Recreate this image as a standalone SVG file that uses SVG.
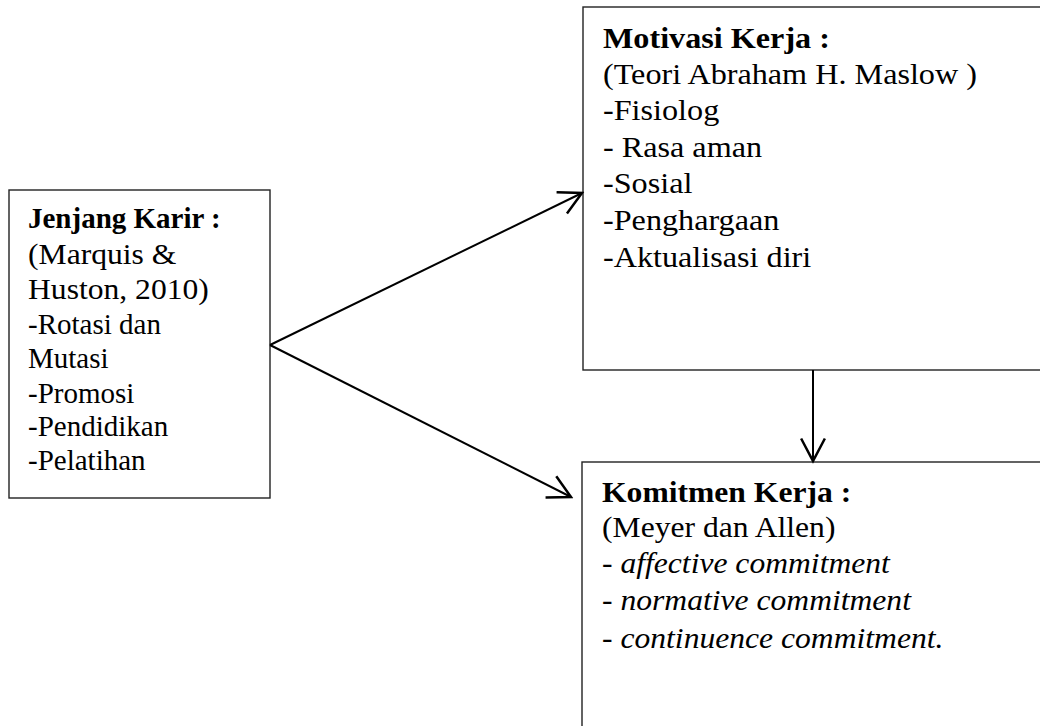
<svg xmlns="http://www.w3.org/2000/svg" width="1040" height="726" viewBox="0 0 1040 726">
  <defs>
    <style>
      .box { fill: #ffffff; stroke: #222222; stroke-width: 1.4; }
      .t { font-family: "Liberation Serif", "Times New Roman", serif; font-size: 29px; fill: #000000; }
      .b { font-weight: bold; }
      .i { font-style: italic; }
      .conn { stroke: #000000; stroke-width: 2; fill: none; marker-end: url(#arr); }
    </style>
    <marker id="arr" markerUnits="userSpaceOnUse" markerWidth="30" markerHeight="30" viewBox="-22 -12 24 24" refX="0" refY="0" orient="auto">
      <path d="M-18,-9.5 L0,0 L-18,9.5" fill="none" stroke="#000000" stroke-width="2"/>
    </marker>
  </defs>
  <rect x="0" y="0" width="1040" height="726" fill="#ffffff"/>

  <g id="jenjang-karir">
    <rect class="box" x="9" y="190" width="261" height="308"/>
    <text class="t b" x="28" y="228">Jenjang Karir :</text>
    <g transform="translate(28 0) scale(1.09 1)">
      <text class="t" x="0" y="264">(Marquis &amp;</text>
      <text class="t" x="0" y="299">Huston, 2010)</text>
    </g>
    <text class="t" x="28" y="334">-Rotasi dan</text>
    <text class="t" x="28" y="368">Mutasi</text>
    <text class="t" x="28" y="403">-Promosi</text>
    <text class="t" x="28" y="436">-Pendidikan</text>
    <text class="t" x="28" y="470">-Pelatihan</text>
  </g>

  <g id="motivasi-kerja">
    <rect class="box" x="583" y="7" width="470" height="363"/>
    <g transform="translate(603 0) scale(1.11 1)">
      <text class="t b" x="0" y="48">Motivasi Kerja :</text>
      <text class="t" x="0" y="84">(Teori Abraham H. Maslow )</text>
      <text class="t" x="0" y="120">-Fisiolog</text>
      <text class="t" x="0" y="157">- Rasa aman</text>
      <text class="t" x="0" y="193">-Sosial</text>
      <text class="t" x="0" y="230">-Penghargaan</text>
      <text class="t" x="0" y="267">-Aktualisasi diri</text>
    </g>
  </g>

  <g id="komitmen-kerja">
    <rect class="box" x="582" y="462" width="470" height="280"/>
    <g transform="translate(602 0) scale(1.09 1)">
      <text class="t b" x="0" y="502">Komitmen Kerja :</text>
      <text class="t" x="0" y="537">(Meyer dan Allen)</text>
      <text class="t" x="0" y="573">- <tspan class="i">affective commitment</tspan></text>
      <text class="t" x="0" y="610">- <tspan class="i">normative commitment</tspan></text>
      <text class="t" x="0" y="648">- <tspan class="i">continuence commitment.</tspan></text>
    </g>
  </g>

  <g id="connectors">
    <line class="conn" x1="270" y1="345" x2="582" y2="193"/>
    <line class="conn" x1="270" y1="345" x2="571" y2="497"/>
    <line class="conn" x1="813" y1="370" x2="813" y2="461"/>
  </g>
</svg>
